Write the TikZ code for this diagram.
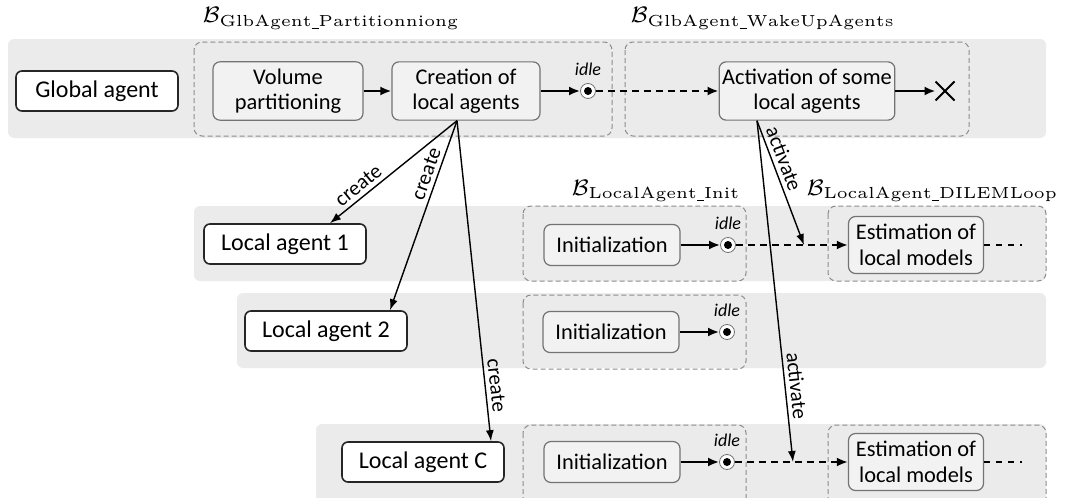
\documentclass[tikz,border=0pt]{standalone}
\usepackage{fix-cm}
\usepackage{amsmath}
\usepackage{fontspec}
\usepackage{tikz}
\usetikzlibrary{shapes,arrows.meta,backgrounds,positioning}
\newfontfamily\boxfont{Carlito}
\newcommand{\us}{\text{\rule[-0.25ex]{0.45em}{0.08ex}}}
\tikzstyle{band}=[fill=black!8, rounded corners=3pt]
\tikzstyle{behav}=[draw=black!45, dash pattern=on 2.5pt off 1.5pt, rounded corners=4pt, line width=0.5pt]
\tikzstyle{agent}=[rectangle, draw=black!85, fill=white, line width=0.8pt, rounded corners=3pt, minimum width=81pt, minimum height=20pt, font=\boxfont\fontsize{12}{14}\selectfont]
\tikzstyle{task}=[rectangle, draw=black!55, fill=black!5, line width=0.6pt, rounded corners=3.5pt, minimum height=28.5pt, inner xsep=1.5pt, align=center, font=\boxfont\fontsize{11.2}{12.8}\selectfont]
\tikzstyle{idlemark}=[circle, draw=black!55, fill=white, minimum size=7.5pt, inner sep=0pt, path picture={\fill[black](path picture bounding box.center) circle (2pt);}, label={[font=\boxfont\itshape\fontsize{9}{10}\selectfont, label distance=0pt]above:idle}]
\tikzstyle{flow}=[-{Latex[length=5.5pt,width=4.5pt]}, line width=1.1pt]
\tikzstyle{wait}=[flow, dash pattern=on 3.5pt off 2.5pt]
\tikzstyle{tail}=[line width=0.6pt, dash pattern=on 3pt off 3pt]
\tikzstyle{link}=[-{Latex[length=5.5pt,width=4pt]}, line width=0.7pt]
\tikzstyle{lab}=[font=\boxfont\fontsize{10.5}{12}\selectfont, inner sep=2pt]
\tikzstyle{btitle}=[font=\fontsize{7}{8}\selectfont, scale=1.6, anchor=base west, inner sep=0pt]
\begin{document}
\begin{tikzpicture}[x=0.5pt,y=-0.5pt]
\useasboundingbox (0,0) rectangle (1067,498);
%Titles
\node[btitle] (tPart) at (202,23) {$\mathcal{B}_{\mathrm{GlbAgent\us Partitionniong}}$};
\node[btitle] (tWake) at (630,23) {$\mathcal{B}_{\mathrm{GlbAgent\us WakeUpAgents}}$};
\node[btitle] (tInit) at (571,195) {$\mathcal{B}_{\mathrm{LocalAgent\us Init}}$};
\node[btitle] (tLoop) at (806,195) {$\mathcal{B}_{\mathrm{LocalAgent\us DILEMLoop}}$};
%Global agent
\node[agent] (glob) at (97,91) {Global agent};
\node[task, minimum width=75pt] (vol) at (288,91) {Volume\\partitioning};
\node[task, minimum width=74pt] (cre) at (466,91) {Creation of\\local agents};
\node[idlemark] (idG) at (588,91) {};
\node[task, minimum width=86.5pt] (actv) at (807,91) {Activation of some\\local agents};
\node[draw, cross out, line width=1pt, minimum size=8.5pt, inner sep=0pt] (endG) at (945,91) {};
%Local agents
\node[agent] (la1) at (285,244) {Local agent 1};
\node[agent] (la2) at (326,331) {Local agent 2};
\node[agent] (laC) at (423,462) {Local agent C};
\node[task, minimum width=68pt, minimum height=20.5pt] (ini1) at (612,245) {Initialization};
\node[task, minimum width=68pt, minimum height=20.5pt] (ini2) at (611,332) {Initialization};
\node[task, minimum width=68pt, minimum height=20.5pt] (ini3) at (612,462) {Initialization};
\node[idlemark] (id1) at (728,245) {};
\node[idlemark] (id2) at (727,332) {};
\node[idlemark] (id3) at (727,462) {};
\node[task, minimum width=67.5pt] (est1) at (916,245) {Estimation of\\local models};
\node[task, minimum width=67.5pt] (est3) at (916,462) {Estimation of\\local models};
\coordinate (tail1) at (1022,245);
\coordinate (tail3) at (1022,462);
\coordinate (hit1) at (804,245);
\coordinate (hit3) at (793,462);
%Flow
\draw[flow] (vol) -- (cre);
\draw[flow] (cre) -- (idG);
\draw[wait] (idG) -- (actv);
\draw[flow] (actv) -- (endG);
\draw[flow] (ini1) -- (id1);
\draw[flow] (ini2) -- (id2);
\draw[flow] (ini3) -- (id3);
\draw[wait] (id1) -- (est1);
\draw[wait] (id3) -- (est3);
\draw[tail] (est1) -- (tail1);
\draw[tail] (est3) -- (tail3);
%Create and activate
\coordinate (crOut) at ([xshift=-4.5pt]cre.south);
\coordinate (acOut) at ([xshift=-25pt]actv.south);
\draw[link] (crOut) -- node[lab,sloped,above,pos=0.72]{create} ([xshift=22.5pt]la1.north);
\draw[link] (crOut) -- node[lab,sloped,above,pos=0.3]{create} ([xshift=32pt]la2.north);
\draw[link] (crOut) -- node[lab,sloped,above,pos=0.83]{create} ([xshift=34pt]laC.north);
\draw[link] (acOut) -- node[lab,sloped,above,pos=0.34]{activate} (hit1);
\draw[link] (acOut) -- node[lab,sloped,above,pos=0.78]{activate} (hit3);
%background
\begin{scope}[on background layer]
\fill[band] (8,39) rectangle (1046,138);
\fill[band] (194,206) rectangle (1046,281);
\fill[band] (237,293) rectangle (1046,368);
\fill[band] (316,424) rectangle (1046,510);
\draw[behav] (194,42) rectangle (612,136);
\draw[behav] (625,42) rectangle (969,136);
\draw[behav] (523,206) rectangle (746,281);
\draw[behav] (523,295) rectangle (746,369);
\draw[behav] (523,425) rectangle (746,510);
\draw[behav] (828,206) rectangle (1046,281);
\draw[behav] (828,425) rectangle (1046,510);
\end{scope}
\end{tikzpicture}
\end{document}
